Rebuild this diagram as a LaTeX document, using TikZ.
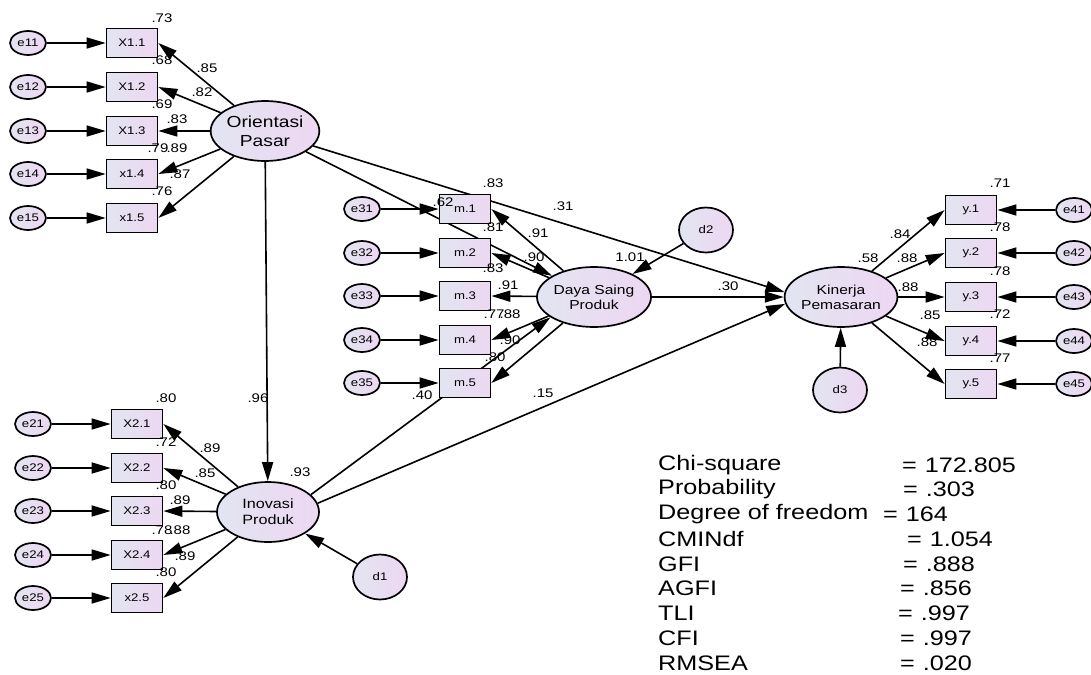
\documentclass[tikz,border=0pt]{standalone}
\usepackage{fontspec}
\setmainfont{Liberation Sans}[FakeStretch=1.2]
\usetikzlibrary{arrows.meta,shapes.geometric}
\definecolor{latA}{RGB}{226,229,241}
\definecolor{latB}{RGB}{237,215,242}
\tikzset{
  lat/.style={ellipse,draw,line width=1.7pt,left color=latA,right color=latB,minimum width=102pt,minimum height=60pt,inner sep=0pt,align=center,font=\fontsize{13}{15}\selectfont},
  ind/.style={rectangle,draw,line width=1.7pt,left color=latA,right color=latB,minimum width=51pt,minimum height=29pt,inner sep=0pt,font=\fontsize{11}{12}\selectfont},
  err/.style={ellipse,draw,line width=1.7pt,left color=latA,right color=latB,minimum width=36pt,minimum height=24pt,inner sep=0pt,font=\fontsize{11}{12}\selectfont},
  dist/.style={err,minimum width=54pt,minimum height=45pt},
  arr/.style={-{Triangle[length=19pt,width=11pt]},line width=1.6pt},
  lbl/.style={inner sep=0pt,font=\fontsize{12.5}{12}\selectfont},
  stat/.style={anchor=west,inner sep=0pt,font=\fontsize{21}{21}\selectfont},
}
\begin{document}
\begin{tikzpicture}[x=1pt,y=-1pt]
	\useasboundingbox (0,0) rectangle (1091,674);
	% latent variables
	\node (op) at (265,131) [lat,font=\fontsize{16}{19}\selectfont] {Orientasi\\Pasar};
	\node (ip) at (268,512) [lat,font=\fontsize{13.5}{16}\selectfont] {Inovasi\\Produk};
	\node (dsp) at (594,297) [lat] {Daya Saing\\Produk};
	\node (kp) at (841,297) [lat] {Kinerja\\Pemasaran};
	\node (d1) at (380,577) [dist] {d1} edge [arr] (ip);
	\node (d2) at (706,230) [dist] {d2} edge [arr] (dsp);
	\node (d3) at (840,390) [dist] {d3} edge [arr] (kp);
	% structural paths
	\draw [arr] (op) -- (ip);
	\draw [arr] (op) -- (dsp);
	\draw [arr] (op) -- (kp.175);
	\draw [arr] (dsp) -- (kp);
	\draw [arr] (ip.22) -- (dsp.205);
	\draw [arr] (ip.10) -- (kp.187);
	% Orientasi Pasar indicators
	\node (x11) at (132,43) [ind] {X1.1};
	\node (x12) at (132,87) [ind] {X1.2};
	\node (x13) at (132,131) [ind] {X1.3};
	\node (x14) at (132,174) [ind] {x1.4};
	\node (x15) at (132,218) [ind] {x1.5};
	\node (e11) at (28,43) [err] {e11} edge [arr] (x11);
	\node (e12) at (28,87) [err] {e12} edge [arr] (x12);
	\node (e13) at (28,131) [err] {e13} edge [arr] (x13);
	\node (e14) at (28,174) [err] {e14} edge [arr] (x14);
	\node (e15) at (28,218) [err] {e15} edge [arr] (x15);
	\draw [arr] (op) -- (x11.east);
	\draw [arr] (op) -- (x12.east);
	\draw [arr] (op) -- (x13.east);
	\draw [arr] (op) -- (x14.east);
	\draw [arr] (op) -- (x15.east);
	% Inovasi Produk indicators
	\node (x21) at (137,424) [ind] {X2.1};
	\node (x22) at (137,468) [ind] {X2.2};
	\node (x23) at (137,511) [ind] {X2.3};
	\node (x24) at (137,555) [ind] {X2.4};
	\node (x25) at (137,598) [ind] {x2.5};
	\node (e21) at (33,424) [err] {e21} edge [arr] (x21);
	\node (e22) at (33,468) [err] {e22} edge [arr] (x22);
	\node (e23) at (33,511) [err] {e23} edge [arr] (x23);
	\node (e24) at (33,555) [err] {e24} edge [arr] (x24);
	\node (e25) at (33,598) [err] {e25} edge [arr] (x25);
	\draw [arr] (ip) -- (x21.east);
	\draw [arr] (ip) -- (x22.east);
	\draw [arr] (ip) -- (x23.east);
	\draw [arr] (ip) -- (x24.east);
	\draw [arr] (ip) -- (x25.east);
	% Daya Saing Produk indicators
	\node (m1) at (465,209) [ind] {m.1};
	\node (m2) at (465,253) [ind] {m.2};
	\node (m3) at (465,296) [ind] {m.3};
	\node (m4) at (465,340) [ind] {m.4};
	\node (m5) at (465,383) [ind] {m.5};
	\node (e31) at (362,209) [err] {e31} edge [arr] (m1);
	\node (e32) at (362,253) [err] {e32} edge [arr] (m2);
	\node (e33) at (362,296) [err] {e33} edge [arr] (m3);
	\node (e34) at (362,340) [err] {e34} edge [arr] (m4);
	\node (e35) at (362,383) [err] {e35} edge [arr] (m5);
	\draw [arr] (dsp) -- (m1.east);
	\draw [arr] (dsp) -- (m2.east);
	\draw [arr] (dsp) -- (m3.east);
	\draw [arr] (dsp) -- (m4.east);
	\draw [arr] (dsp) -- (m5.east);
	% Kinerja Pemasaran indicators
	\node (y1) at (971,210) [ind] {y.1};
	\node (y2) at (971,253) [ind] {y.2};
	\node (y3) at (971,297) [ind] {y.3};
	\node (y4) at (971,341) [ind] {y.4};
	\node (y5) at (971,384) [ind] {y.5};
	\node (e41) at (1074,210) [err] {e41} edge [arr] (y1);
	\node (e42) at (1074,253) [err] {e42} edge [arr] (y2);
	\node (e43) at (1074,297) [err] {e43} edge [arr] (y3);
	\node (e44) at (1074,341) [err] {e44} edge [arr] (y4);
	\node (e45) at (1074,384) [err] {e45} edge [arr] (y5);
	\draw [arr] (kp) -- (y1.west);
	\draw [arr] (kp) -- (y2.west);
	\draw [arr] (kp) -- (y3.west);
	\draw [arr] (kp) -- (y4.west);
	\draw [arr] (kp) -- (y5.west);
	% estimates
	\node (r11) at (162,18) [lbl] {.73};
	\node (l11) at (207,68) [lbl] {.85};
	\node (r12) at (162,60) [lbl] {.68};
	\node (l12) at (202,92) [lbl] {.82};
	\node (r13) at (162,104) [lbl] {.69};
	\node (l13) at (177,119) [lbl] {.83};
	\node (r14) at (158,148) [lbl] {.79};
	\node (l14) at (177,148) [lbl] {.89};
	\node (l15) at (180,174) [lbl] {.87};
	\node (r15) at (162,191) [lbl] {.76};
	\node (r21) at (166,398) [lbl] {.80};
	\node (r22) at (166,442) [lbl] {.72};
	\node (l21) at (210,448) [lbl] {.89};
	\node (l22) at (205,473) [lbl] {.85};
	\node (r23) at (166,485) [lbl] {.80};
	\node (l23) at (180,500) [lbl] {.89};
	\node (r24) at (162,530) [lbl] {.78};
	\node (l24) at (180,530) [lbl] {.88};
	\node (l25) at (185,556) [lbl] {.89};
	\node (r25) at (166,572) [lbl] {.80};
	\node (rip) at (300,472) [lbl] {.93};
	\node (bop) at (258,398) [lbl] {.96};
	\node (r31) at (493,183) [lbl] {.83};
	\node (bdp) at (443,202) [lbl] {.62};
	\node (bkp1) at (563,206) [lbl] {.31};
	\node (r32) at (493,227) [lbl] {.81};
	\node (l31) at (538,233) [lbl] {.91};
	\node (l32) at (534,257) [lbl] {.90};
	\node (rdsp) at (630,257) [lbl] {1.01};
	\node (r33) at (493,268) [lbl] {.83};
	\node (l33) at (508,285) [lbl] {.91};
	\node (r34) at (494,314) [lbl] {.77};
	\node (l34) at (510,314) [lbl] {.88};
	\node (l35) at (510,340) [lbl] {.90};
	\node (r35) at (495,357) [lbl] {.80};
	\node (bdi) at (422,395) [lbl] {.40};
	\node (bki) at (543,393) [lbl] {.15};
	\node (bkd) at (728,286) [lbl] {.30};
	\node (r41) at (1000,183) [lbl] {.71};
	\node (r42) at (1000,227) [lbl] {.78};
	\node (r43) at (1000,271) [lbl] {.78};
	\node (r44) at (1000,314) [lbl] {.72};
	\node (r45) at (1000,358) [lbl] {.77};
	\node (l41) at (900,234) [lbl] {.84};
	\node (rkp) at (868,258) [lbl] {.58};
	\node (l42) at (907,258) [lbl] {.88};
	\node (l43) at (908,287) [lbl] {.88};
	\node (l44) at (930,315) [lbl] {.85};
	\node (l45) at (927,342) [lbl] {.88};
	% fit indices
	\node (s1) at (658,465) [stat] {Chi-square};
	\node (v1) at (902,465) [stat] {=\hspace{8pt}172.805};
	\node (s2) at (658,489) [stat] {Probability};
	\node (v2) at (903,489) [stat] {=\hspace{8pt}.303};
	\node (s3) at (658,514) [stat] {Degree of freedom};
	\node (v3) at (883,514) [stat] {=\hspace{8pt}164};
	\node (s4) at (658,539) [stat] {CMINdf};
	\node (v4) at (907,539) [stat] {=\hspace{8pt}1.054};
	\node (s5) at (658,564) [stat] {GFI};
	\node (v5) at (903,564) [stat] {=\hspace{8pt}.888};
	\node (s6) at (658,588) [stat] {AGFI};
	\node (v6) at (900,588) [stat] {=\hspace{8pt}.856};
	\node (s7) at (658,613) [stat] {TLI};
	\node (v7) at (898,613) [stat] {=\hspace{8pt}.997};
	\node (s8) at (658,638) [stat] {CFI};
	\node (v8) at (900,638) [stat] {=\hspace{8pt}.997};
	\node (s9) at (658,663) [stat] {RMSEA};
	\node (v9) at (900,663) [stat] {=\hspace{8pt}.020};
\end{tikzpicture}
\end{document}
